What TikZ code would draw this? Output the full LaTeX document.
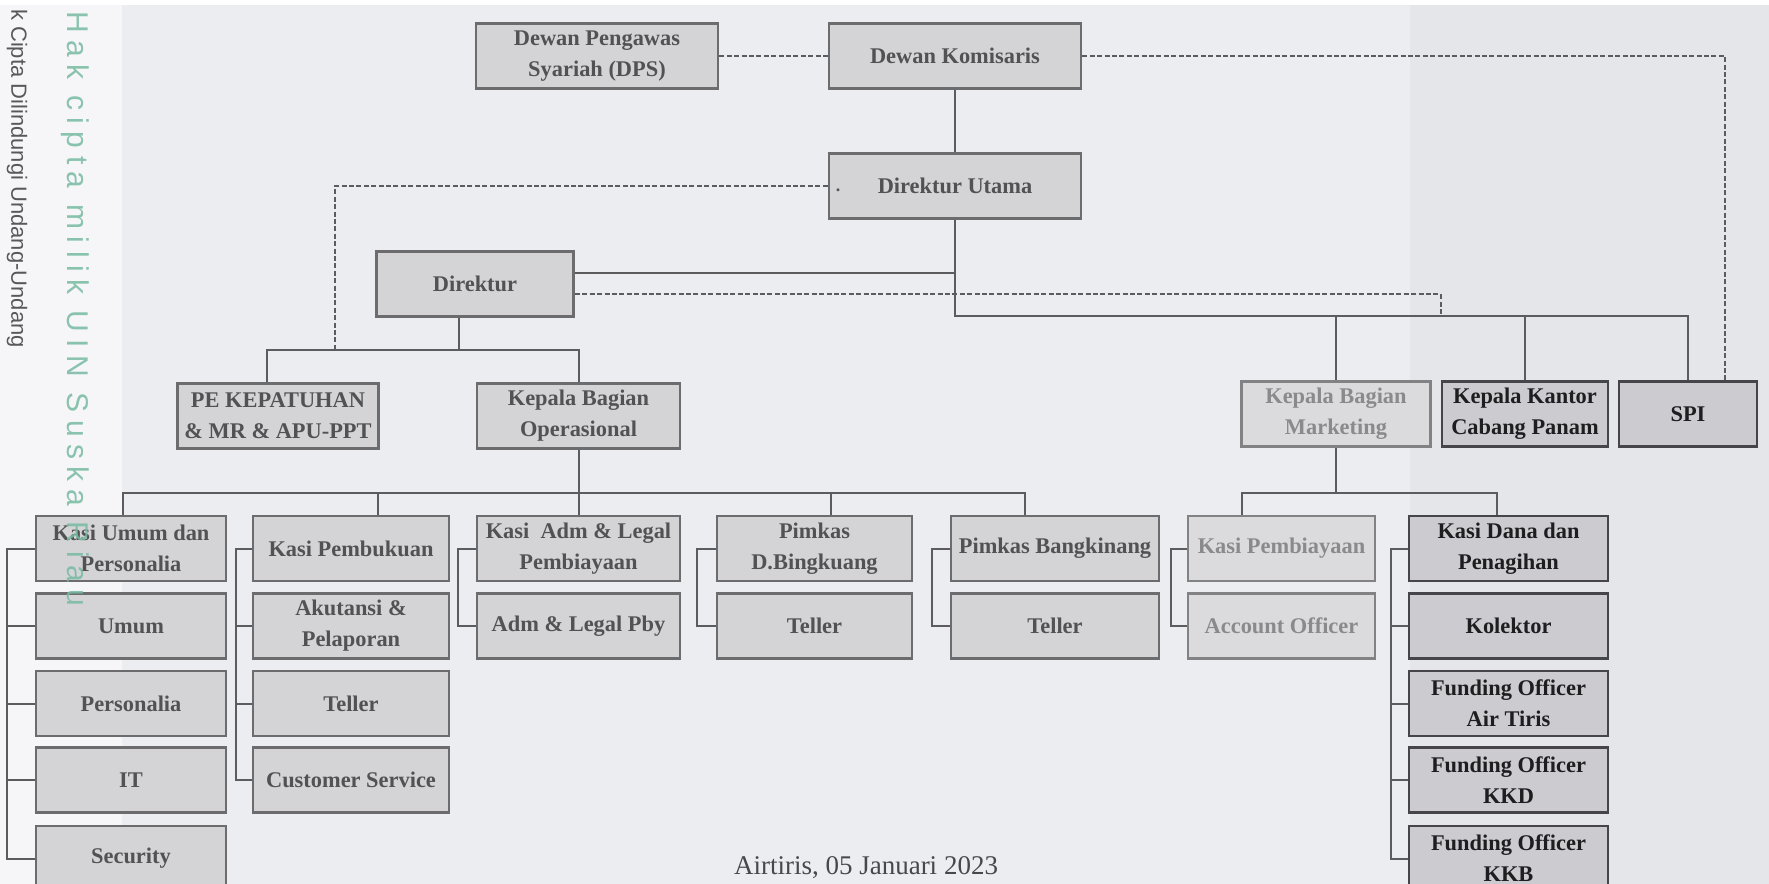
\documentclass[tikz,border=0pt]{standalone}
\usepackage{fontspec}
\setmainfont{Liberation Serif}
\newfontfamily\wmfont[LetterSpace=25]{Liberation Sans}
\newfontfamily\notefont{Liberation Sans}
\definecolor{paper}{RGB}{236,237,241}
\definecolor{strip}{RGB}{246,246,248}
\definecolor{sidegrey}{RGB}{229,230,234}
\definecolor{boxfill}{RGB}{212,212,214}
\definecolor{boxline}{RGB}{108,108,110}
\definecolor{boxtext}{RGB}{82,82,84}
\definecolor{darkfill}{RGB}{203,203,208}
\definecolor{darkline}{RGB}{70,70,74}
\definecolor{darktext}{RGB}{30,30,32}
\definecolor{palefill}{RGB}{219,219,222}
\definecolor{paleline}{RGB}{130,130,133}
\definecolor{paletext}{RGB}{138,138,140}
\definecolor{wire}{RGB}{92,92,95}
\definecolor{datetext}{RGB}{72,72,74}
\definecolor{wmgreen}{RGB}{118,186,160}
\definecolor{wmgray}{RGB}{88,88,92}
\begin{document}
\begin{tikzpicture}[x=0.5pt, y=-0.5pt,
    unit/.style={draw=boxline, line width=1.4pt, fill=boxfill, text=boxtext,
      font=\bfseries\fontsize{11.2}{15.5}\selectfont, align=center,
      inner sep=0pt, minimum height=32.5pt},
    lead/.style={unit, draw=darkline, fill=darkfill, text=darktext},
    pale/.style={unit, draw=paleline, fill=palefill, text=paletext},
    link/.style={draw=wire, line width=1pt},
    rel/.style={draw=wire, line width=1pt, dash pattern=on 2.5pt off 1.2pt}]
  \useasboundingbox (0,0) rectangle (1769,884);
  \fill[paper] (0,0) rectangle (1769,884);
  \fill[strip] (0,0) rectangle (122,884);
  \fill[sidegrey] (1410,0) rectangle (1769,884);
  \fill[white] (0,0) rectangle (1769,5);

  \node[unit, minimum width=121pt] (dps) at (597,56) {Dewan Pengawas\\Syariah (DPS)};
  \node[unit, minimum width=126pt] (dk) at (955,56) {Dewan Komisaris};
  \node[unit, minimum width=126pt] (du) at (955,186) {Direktur Utama};
  \node[text=boxtext, font=\bfseries\small] (stray) at (838,190) {.};
  \node[unit, minimum width=98.5pt] (dir) at (475,284) {Direktur};
  \node[unit, minimum width=100.5pt] (pe) at (278,416) {PE KEPATUHAN\\\& MR \& APU-PPT};
  \node[unit, minimum width=101.5pt] (ops) at (578.5,416) {Kepala Bagian\\Operasional};
  \node[pale, minimum width=94.5pt] (mkt) at (1336,414) {Kepala Bagian\\Marketing};
  \node[lead, minimum width=83pt] (kkc) at (1525,414) {Kepala Kantor\\Cabang Panam};
  \node[lead, minimum width=69pt] (spi) at (1688,414) {SPI};

  \node[unit, minimum width=95pt] (ku) at (131,548.5) {Kasi Umum dan\\Personalia};
  \node[unit, minimum width=95pt] (um) at (131,626) {Umum};
  \node[unit, minimum width=95pt] (per) at (131,703.5) {Personalia};
  \node[unit, minimum width=95pt] (it) at (131,780) {IT};
  \node[unit, minimum width=95pt] (sec) at (131,858.5) {Security};

  \node[unit, minimum width=98pt] (kp) at (351,548.5) {Kasi Pembukuan};
  \node[unit, minimum width=98pt] (ak) at (351,626) {Akutansi \&\\Pelaporan};
  \node[unit, minimum width=98pt] (tla) at (351,703.5) {Teller};
  \node[unit, minimum width=98pt] (cs) at (351,780) {Customer Service};

  \node[unit, minimum width=101.5pt] (ka) at (578.5,548.5) {Kasi\enspace Adm \& Legal\\Pembiayaan};
  \node[unit, minimum width=101.5pt] (alp) at (578.5,626) {Adm \& Legal Pby};

  \node[unit, minimum width=97.5pt] (pdb) at (814.5,548.5) {Pimkas\\D.Bingkuang};
  \node[unit, minimum width=97.5pt] (tlb) at (814.5,626) {Teller};

  \node[unit, minimum width=104pt] (pb) at (1055,548.5) {Pimkas Bangkinang};
  \node[unit, minimum width=104pt] (tlc) at (1055,626) {Teller};

  \node[pale, minimum width=93.5pt] (kpby) at (1281.5,548.5) {Kasi Pembiayaan};
  \node[pale, minimum width=93.5pt] (ao) at (1281.5,626) {Account Officer};

  \node[lead, minimum width=99.5pt] (kdp) at (1508.5,548.5) {Kasi Dana dan\\Penagihan};
  \node[lead, minimum width=99.5pt] (kol) at (1508.5,626) {Kolektor};
  \node[lead, minimum width=99.5pt] (foa) at (1508.5,703.5) {Funding Officer\\Air Tiris};
  \node[lead, minimum width=99.5pt] (fob) at (1508.5,780) {Funding Officer\\KKD};
  \node[lead, minimum width=99.5pt] (foc) at (1508.5,858.5) {Funding Officer\\KKB};

  \node[anchor=base, text=datetext, font=\fontsize{13.5}{16}\selectfont] (place) at (866,874) {Airtiris, 05 Januari 2023};

  \coordinate (bus1) at (0,316);
  \coordinate (bus2) at (0,350);
  \coordinate (bus3) at (0,493);

  \draw[rel] (dps) -- (dk);
  \draw[rel] (dk.east) -| ([xshift=18.5pt]spi.north);
  \draw[link] (dk) -- (du);
  \draw[link] (du.south) -- (du.south |- bus1) -| (spi.north);
  \draw[link] (mkt.north) -- (mkt.north |- bus1);
  \draw[link] (kkc.north) -- (kkc.north |- bus1);
  \draw[link] ([yshift=5.5pt]dir.east) -| (du.south);
  \draw[rel] ([yshift=-5pt]dir.east) -| (kkc.north west |- bus1);
  \draw[rel] (du.west) -| ([xshift=-20pt]dir.south west |- bus2);

  \draw[link] ([xshift=-8pt]dir.south) -- ([xshift=-8pt]dir.south |- bus2);
  \draw[link] ([xshift=-5.5pt]pe.north) |- (ops.north |- bus2) -- (ops.north);

  \draw[link] (ops.south) -- (ops.south |- bus3);
  \draw[link] ([xshift=-4pt]ku.north) |- ([xshift=-15pt]pb.north |- bus3) -- ([xshift=-15pt]pb.north);
  \draw[link] ([xshift=13.5pt]kp.north) -- ([xshift=13.5pt]kp.north |- bus3);
  \draw[link] (ka.north) -- (ka.north |- bus3);
  \draw[link] ([xshift=8pt]pdb.north) -- ([xshift=8pt]pdb.north |- bus3);

  \draw[link] (mkt.south) -- (mkt.south |- bus3);
  \draw[link] ([xshift=-20pt]kpby.north) |- ([xshift=-6pt]kdp.north |- bus3) -- ([xshift=-6pt]kdp.north);

  \draw[link] (ku.west) -- ++(-28,0) |- (um.west);
  \draw[link] (ku.west) -- ++(-28,0) |- (per.west);
  \draw[link] (ku.west) -- ++(-28,0) |- (it.west);
  \draw[link] (ku.west) -- ++(-28,0) |- (sec.west);
  \draw[link] (kp.west) -- ++(-16,0) |- (ak.west);
  \draw[link] (kp.west) -- ++(-16,0) |- (tla.west);
  \draw[link] (kp.west) -- ++(-16,0) |- (cs.west);
  \draw[link] (ka.west) -- ++(-18,0) |- (alp.west);
  \draw[link] (pdb.west) -- ++(-19,0) |- (tlb.west);
  \draw[link] (pb.west) -- ++(-18,0) |- (tlc.west);
  \draw[link] (kpby.west) -- ++(-16,0) |- (ao.west);
  \draw[link] (kdp.west) -- ++(-17,0) |- (kol.west);
  \draw[link] (kdp.west) -- ++(-17,0) |- (foa.west);
  \draw[link] (kdp.west) -- ++(-17,0) |- (fob.west);
  \draw[link] (kdp.west) -- ++(-17,0) |- (foc.west);

  \node[rotate=-90, anchor=west, text=wmgray, font=\notefont\fontsize{11}{13}\selectfont] (notice) at (17,2) {k Cipta Dilindungi Undang-Undang};
  \node[rotate=-90, anchor=west, text=wmgreen, opacity=0.85, font=\wmfont\fontsize{15}{18}\selectfont] (mark) at (75,4) {Hak cipta milik UIN Suska Riau};
\end{tikzpicture}
\end{document}
